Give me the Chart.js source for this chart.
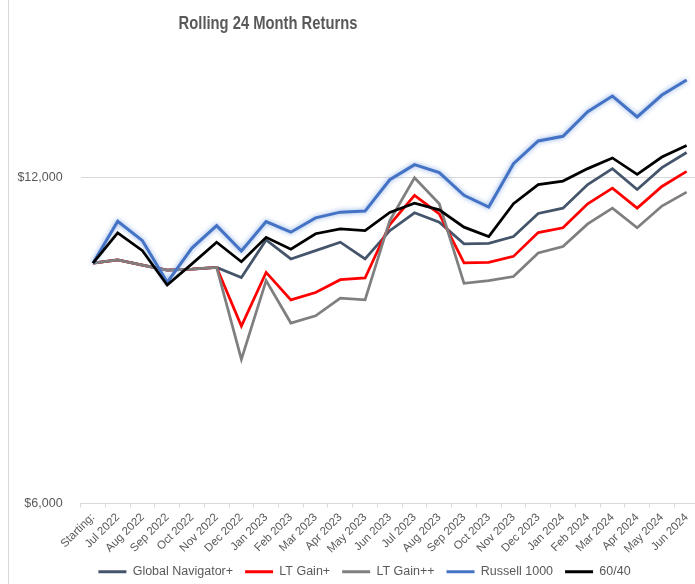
<!DOCTYPE html>
<html>
<head>
<meta charset="utf-8">
<script src="https://cdn.jsdelivr.net/npm/chart.js@4"></script>
<style>
  html, body { margin: 0; padding: 0; background: #fff; overflow: hidden; }
  #wrap { position: relative; width: 744px; height: 592px; }
  #edge { position: absolute; left: 8px; top: 0; width: 1px; height: 592px; background: #d9d9d9; }
  #title {
    position: absolute; left: 0; top: 14px; width: 536px; text-align: center;
    font: bold 18px/18px "Liberation Sans", Arial, sans-serif;
    color: #595959;
    transform: scaleX(0.82);
    transform-origin: 268px 0;
  }
  canvas { position: absolute; left: 0; top: 0; }
</style>
</head>
<body>
<div id="wrap">
  <div id="edge"></div>
  <canvas id="chart" width="744" height="592"></canvas>
  <div id="title">Rolling 24 Month Returns</div>
</div>
<script>
const months = ['Starting:', 'Jul 2022', 'Aug 2022', 'Sep 2022', 'Oct 2022', 'Nov 2022', 'Dec 2022',
  'Jan 2023', 'Feb 2023', 'Mar 2023', 'Apr 2023', 'May 2023', 'Jun 2023', 'Jul 2023', 'Aug 2023',
  'Sep 2023', 'Oct 2023', 'Nov 2023', 'Dec 2023', 'Jan 2024', 'Feb 2024', 'Mar 2024', 'Apr 2024',
  'May 2024', 'Jun 2024'];

const globalNav = [10000, 10070, 9960, 9855, 9875, 9910, 9700, 10505, 10090, 10270, 10455, 10090,
  10715, 11130, 10910, 10420, 10430, 10580, 11115, 11240, 11820, 12225, 11695, 12250, 12650];
const ltGain = [10000, 10070, 9960, 9855, 9875, 9910, 8750, 9805, 9250, 9395, 9655, 9690,
  10855, 11550, 11105, 10005, 10015, 10145, 10670, 10780, 11345, 11730, 11240, 11770, 12155];
const ltGainPlus = [10000, 10070, 9960, 9855, 9875, 9910, 8150, 9635, 8805, 8940, 9285, 9250,
  10950, 11990, 11345, 9580, 9635, 9720, 10220, 10360, 10870, 11240, 10780, 11290, 11630];
const russell = [10000, 10930, 10490, 9600, 10325, 10830, 10260, 10925, 10680, 11010, 11145, 11170,
  11940, 12330, 12120, 11550, 11265, 12355, 12965, 13095, 13795, 14265, 13645, 14295, 14760];
const sixtyForty = [10000, 10665, 10270, 9545, 9985, 10455, 10030, 10565, 10300, 10645, 10755, 10715,
  11140, 11360, 11200, 10795, 10580, 11345, 11815, 11905, 12225, 12505, 12075, 12530, 12840];

const yTicks = [6000, 12000];

const textColor = '#595959';
const gridColor = '#d9d9d9';
const fontFamily = '"Liberation Sans", Arial, sans-serif';

// soft glow around the Russell line
const glow = {
  id: 'glow',
  beforeDatasetDraw(chart, args) {
    if (args.meta.label !== 'Russell 1000') return;
    chart.ctx.save();
    chart.ctx.shadowColor = 'rgba(120, 160, 225, 0.9)';
    chart.ctx.shadowBlur = 5;
  },
  afterDatasetDraw(chart, args) {
    if (args.meta.label !== 'Russell 1000') return;
    chart.ctx.restore();
  }
};

// legend sits a bit right of the plot centre in the original
const legendShift = {
  id: 'legendShift',
  afterLayout(chart) {
    chart.legend.left += 15;
    chart.legend.right += 15;
  }
};

function series(label, data, color, order, width) {
  return {
    label: label,
    data: data,
    borderColor: color,
    backgroundColor: color,
    borderWidth: width,
    pointRadius: 0,
    tension: 0,
    fill: false,
    order: order
  };
}

const ctx = document.getElementById('chart').getContext('2d');
new Chart(ctx, {
  type: 'line',
  data: {
    labels: months,
    datasets: [
      series('Global Navigator+', globalNav, '#44546A', 5, 2.75),
      series('LT Gain+', ltGain, '#FF0000', 4, 2.75),
      series('LT Gain++', ltGainPlus, '#7F7F7F', 3, 2.75),
      series('Russell 1000', russell, '#4472C4', 2, 3),
      series('60/40', sixtyForty, '#000000', 1, 2.75)
    ]
  },
  options: {
    responsive: false,
    animation: false,
    devicePixelRatio: 1,
    layout: { padding: { left: 0, right: 45, top: 42, bottom: 4 } },
    plugins: {
      title: { display: false },
      tooltip: { enabled: false },
      legend: {
        position: 'bottom',
        labels: {
          boxWidth: 28,
          boxHeight: 3,
          padding: 12,
          color: textColor,
          font: { size: 12.5, family: fontFamily },
          generateLabels: chart => chart.data.datasets.map((ds, i) => ({
            text: ds.label,
            fillStyle: ds.borderColor,
            strokeStyle: ds.borderColor,
            lineWidth: 0,
            hidden: false,
            fontColor: textColor,
            datasetIndex: i
          }))
        }
      }
    },
    scales: {
      x: {
        offset: true,
        afterFit: s => { s.height = 50; },
        grid: { offset: true, drawOnChartArea: false, tickLength: 4, color: gridColor },
        border: { color: gridColor },
        ticks: {
          autoSkip: false,
          minRotation: 45,
          maxRotation: 45,
          padding: 3,
          color: textColor,
          font: { size: 11.5, family: fontFamily }
        }
      },
      y: {
        type: 'logarithmic',
        min: 6000,
        max: 16000,
        afterFit: s => { s.width = 80.6; },
        afterBuildTicks: scale => { scale.ticks = yTicks.map(v => ({ value: v })); },
        grid: { color: gridColor, drawTicks: false },
        border: { display: false },
        ticks: {
          padding: 18,
          color: textColor,
          font: { size: 12.5, family: fontFamily },
          callback: v => '$' + Number(v).toLocaleString('en-US')
        }
      }
    }
  },
  plugins: [glow, legendShift]
});
</script>
</body>
</html>
